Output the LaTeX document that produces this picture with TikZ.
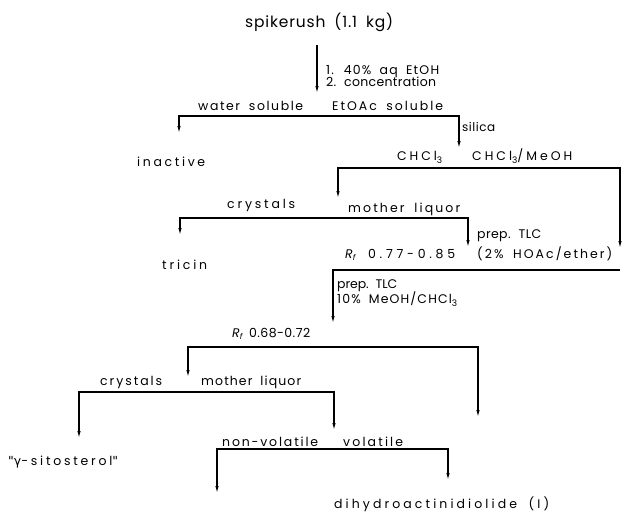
\documentclass[tikz,border=0pt]{standalone}
\usepackage{fontspec}
\usepackage{xfp}
\setmainfont{Poppins}[WordSpace=1.8]
\newfontfamily\fzero{Poppins}[WordSpace=1.8]
\newfontfamily\fhund{Poppins}[WordSpace=1.8,LetterSpace=100]
\newfontfamily\greekfont{DejaVu Sans}
\newfontfamily\sitofont{Poppins}[LetterSpace=22]
\usetikzlibrary{arrows.meta}
\newcommand{\subthree}{\raisebox{-3pt}{\fontsize{9}{9}\selectfont 3}}
\newcommand{\Rf}{{\itshape R}\raisebox{-2.5pt}{\fontsize{8}{8}\selectfont\itshape f}}
\newlength\wzero
\newlength\whund
% set #2 with letter spacing chosen so that it is #1 pt wide
\newcommand{\fitw}[2]{%
  \settowidth\wzero{\fzero #2}%
  \settowidth\whund{\fhund #2}%
  \edef\lsval{\fpeval{round(100*(#1-\wzero)/(\whund-\wzero),2)}}%
  {\fzero\addfontfeature{LetterSpace=\lsval}#2}}
\begin{document}
\begin{tikzpicture}[x=1pt,y=-1pt,
  lbl/.style={anchor=base west, inner sep=0pt, font=\fontsize{12.5}{14}\selectfont},
  big/.style={lbl, font=\fontsize{15.5}{17}\selectfont},
  small/.style={lbl, font=\fontsize{12}{13}\selectfont},
  arr/.style={line width=1.1pt, -{Latex[length=7pt,width=3.4pt]}},
  brk/.style={line width=1.1pt, {Latex[length=7pt,width=3.4pt]}-{Latex[length=7pt,width=3.4pt]}}]
\useasboundingbox[fill=white] (0,0) rectangle (625,512);

% level 0
\node[big] (title) at (245,27) {\fitw{148}{spikerush (1.1 kg)}};
\coordinate (a0) at (317,45);
\coordinate (a1) at (317,93);
\draw[arr] (a0) -- (a1);
\node[lbl] (s1) at (326,74) {\fitw{113}{1. 40\% aq EtOH}};
\node[lbl] (s2) at (326,86) {\fitw{110}{2. concentration}};

% split 1
\node[lbl] (ws) at (198,110) {\fitw{105}{water soluble}};
\node[lbl] (es) at (332,110) {\fitw{111}{EtOAc soluble}};
\coordinate (b1l) at (179,133);
\coordinate (b1lt) at (179,116);
\coordinate (b1rt) at (459,116);
\coordinate (b1r) at (459,148);
\draw[brk] (b1l) -- (b1lt) -- (b1rt) -- (b1r);
\node[small] (sil) at (462,131) {\fitw{33}{silica}};
\node[lbl] (inact) at (137,166) {\fitw{68}{inactive}};

% split 2
\node[lbl] (c1) at (397,160) {\fitw{45}{CHCl\subthree}};
\node[lbl] (c2) at (472,160) {\fitw{100}{CHCl\subthree/MeOH}};
\coordinate (b2l) at (338,198);
\coordinate (b2lt) at (338,168);
\coordinate (b2rt) at (620,168);
\coordinate (b2r) at (620,248);
\draw[brk] (b2l) -- (b2lt) -- (b2rt) -- (b2r);

% split 3
\node[lbl] (cr1) at (227,208) {\fitw{68}{crystals}};
\node[lbl] (ml1) at (348,212) {\fitw{112}{mother liquor}};
\coordinate (b3l) at (180,235);
\coordinate (b3lt) at (180,218);
\coordinate (b3rt) at (468,218);
\coordinate (b3r) at (468,247);
\draw[brk] (b3l) -- (b3lt) -- (b3rt) -- (b3r);
\node[lbl] (tlc1) at (477,238) {\fitw{64}{prep. TLC}};
\node[lbl] (tlc1b) at (477,258) {\fitw{135}{(2\% HOAc/ether)}};
\node[lbl] (tric) at (162,269) {\fitw{45}{tricin}};
\node[lbl] (rf1) at (345,258) {\fitw{110}{\Rf\ 0.77-0.85}};

% combine line
\coordinate (c0) at (620,270);
\coordinate (c1p) at (333,270);
\coordinate (c2p) at (333,323);
\draw[arr] (c0) -- (c1p) -- (c2p);
\node[lbl] (tlc2) at (337,288) {\fitw{60}{prep. TLC}};
\node[lbl] (tlc2b) at (337,303) {\fitw{120}{10\% MeOH/CHCl\subthree}};

% split 4
\node[lbl] (rf2) at (232,337) {\fitw{78}{\Rf\ 0.68-0.72}};
\coordinate (b4l) at (188,377);
\coordinate (b4lt) at (188,347);
\coordinate (b4rt) at (478,347);
\coordinate (b4r) at (478,417);
\draw[brk] (b4l) -- (b4lt) -- (b4rt) -- (b4r);

% split 5
\node[lbl] (cr2) at (100,385) {\fitw{62}{crystals}};
\node[lbl] (ml2) at (201,385) {\fitw{100}{mother liquor}};
\coordinate (b5l) at (79,438);
\coordinate (b5lt) at (79,392);
\coordinate (b5rt) at (334,392);
\coordinate (b5r) at (334,430);
\draw[brk] (b5l) -- (b5lt) -- (b5rt) -- (b5r);
\node[lbl] (sito) at (8,465) {{\greekfont"γ}{\sitofont -sitosterol}{\greekfont"}};

% split 6
\node[lbl] (nv) at (222,446) {\fitw{96}{non-volatile}};
\node[lbl] (vol) at (343,446) {\fitw{60}{volatile}};
\coordinate (b6l) at (217,493);
\coordinate (b6lt) at (217,449);
\coordinate (b6rt) at (448,449);
\coordinate (b6r) at (448,480);
\draw[brk] (b6l) -- (b6lt) -- (b6rt) -- (b6r);
\node[lbl] (dihy) at (334,508) {\fitw{215}{dihydroactinidiolide (I)}};
\end{tikzpicture}
\end{document}
